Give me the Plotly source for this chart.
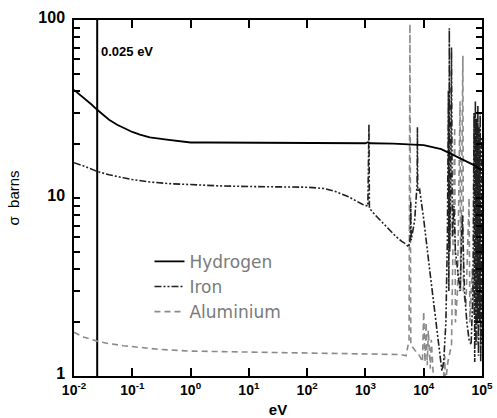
import plotly.graph_objects as go

# ---------------- data ----------------
h_energy = [0.01, 0.015, 0.02, 0.025, 0.03, 0.04, 0.055, 0.07, 0.1, 0.135, 0.2, 0.39, 0.6,
            1, 2, 5, 10, 100, 1000, 1100, 1200, 3000, 5000, 1e4, 2e4, 3e4, 5e4, 7e4, 1e5]
h_sigma = [40.5, 36.5, 33.5, 31.3, 29.8, 27.5, 25.8, 24.8, 23.5, 22.7, 21.9, 21.3, 20.9,
           20.5, 20.5, 20.45, 20.4, 20.4, 20.3, 20.6, 20.3, 20.2, 20.1, 19.8, 18.8, 17.6, 16.3, 15.4, 14.3]

fe_energy = [0.01, 0.015, 0.025, 0.04, 0.07, 0.1, 0.2, 0.5, 1, 3, 10, 30, 100, 200, 300,
             500, 700, 900, 1100, 1150, 1170, 1300, 1600, 2000, 2600, 3300, 4200, 5000,
             5500, 5900, 6000, 6100, 7000, 7700, 7800, 7900, 8500, 1e4, 1.26e4, 1.58e4,
             2.05e4, 2.2e4, 2.4e4, 2.55e4, 2.65e4, 2.7e4, 2.75e4, 2.8e4, 2.9e4, 3.0e4,
             3.1e4, 3.3e4, 3.5e4, 3.8e4, 4.2e4, 4.6e4, 5.0e4, 5.5e4, 6.0e4, 6.5e4, 7.0e4,
             7.3e4, 7.5e4, 7.7e4, 7.9e4, 8.1e4, 8.3e4, 8.5e4, 8.7e4, 8.9e4, 9.1e4, 9.3e4,
             9.5e4, 9.7e4, 1e5]
fe_sigma = [15.8, 15.1, 14.1, 13.5, 13.0, 12.7, 12.3, 12.0, 11.9, 11.7, 11.6, 11.5, 11.5, 11.3, 10.9,
            10.2, 9.6, 9.2, 9.0, 26, 8.8, 8.4, 7.8, 7.2, 6.6, 6.1, 5.7, 5.5,
            5.3, 6.0, 9.5, 5.8, 7.5, 12, 25, 11, 11.2, 7.6, 4.0, 2.1,
            1.07, 1.2, 2.0, 6, 40, 3, 90, 5, 12, 70,
            6, 9, 5, 4, 3, 8, 3, 2, 1.6, 1.5, 3,
            30, 1.2, 35, 1.5, 28, 2, 33, 1.3, 25, 2, 30,
            1.2, 22, 1.5]

al_energy = [0.01, 0.015, 0.025, 0.04, 0.07, 0.1, 0.3, 1, 10, 100, 1000, 4000, 5000,
             5200, 5600, 5800, 6000, 7000, 8500, 9500, 1.0e4, 1.05e4, 1.1e4, 1.15e4, 1.2e4,
             1.3e4, 1.35e4, 1.45e4, 1.6e4, 2.0e4, 2.2e4, 2.3e4, 2.35e4, 2.6e4, 3.0e4, 3.4e4,
             3.5e4, 3.8e4, 4.2e4, 4.3e4, 4.7e4, 4.8e4, 5.3e4, 6.0e4, 6.2e4, 6.8e4, 7.2e4,
             8.0e4, 8.3e4, 9.0e4, 9.5e4, 1e5]
al_sigma = [1.76, 1.65, 1.57, 1.52, 1.48, 1.46, 1.41, 1.38, 1.36, 1.35, 1.33, 1.32, 1.3,
            1.4, 1.6, 95, 1.5, 1.4, 1.3, 1.2, 2.3, 1.2, 2.0, 1.15, 1.8,
            1.1, 1.6, 1.05, 0.9, 0.9, 1.0, 1.3, 0.9, 1.2, 1.5, 25,
            2, 3, 35, 3, 63, 3, 2.5, 10, 2, 4, 2.2,
            20, 1.5, 8, 1.3, 3]

thermal_energy = [0.025, 0.025]
thermal_span = [1, 100]

# tick labels: plotly's default labels -> labels shown in the picture
x_tick_default = ["0.01", "0.1", "1", "10", "100", "1000", "10k", "100k"]
x_tick_labels = ["10<sup>-2</sup>", "10<sup>-1</sup>", "10<sup>0</sup>", "10<sup>1</sup>",
                 "10<sup>2</sup>", "10<sup>3</sup>", "10<sup>4</sup>", "10<sup>5</sup>"]
y_tick_default = ["1", "10", "100", "2", "3", "4", "5", "6", "7", "8", "9"]
y_tick_labels = ["<b>1</b>", "<b>10</b>", "<b>100</b>", " ", " ", " ", " ", " ", " ", " ", " "]

SANS = "Liberation Sans, Arial, sans-serif"

# ---------------- figure ----------------
fig = go.Figure()

fig.add_trace(go.Scatter(x=thermal_energy, y=thermal_span, mode="lines",
                         line=dict(color="black", width=2), showlegend=False,
                         hoverinfo="skip"))
fig.add_trace(go.Scatter(x=al_energy, y=al_sigma, mode="lines", name="Aluminium",
                         line=dict(color="#8a8a8a", width=1.6, dash="6px,4px")))
fig.add_trace(go.Scatter(x=fe_energy, y=fe_sigma, mode="lines", name="Iron",
                         line=dict(color="#202020", width=1.6,
                                   dash="7px,2px,2px,2px,2px,2px")))
fig.add_trace(go.Scatter(x=h_energy, y=h_sigma, mode="lines", name="Hydrogen",
                         line=dict(color="black", width=1.8)))

fig.update_layout(
    width=497, height=418,
    margin=dict(l=74, r=15, t=20, b=42, autoexpand=False),
    paper_bgcolor="white", plot_bgcolor="white",
    showlegend=True,
    legend=dict(x=0.185, y=0.371, xanchor="left", yanchor="top",
                traceorder="reversed", bgcolor="rgba(0,0,0,0)",
                font=dict(family="DejaVu Sans", size=17, color="#7a7a7a")),
    annotations=[dict(text="<b>0.025 eV</b>", xref="paper", yref="paper",
                      x=0.062, y=0.912, xanchor="left", yanchor="middle",
                      showarrow=False, font=dict(family=SANS, size=13, color="black"))],
)

fig.update_xaxes(type="log", range=[-2, 5], automargin=False,
                 dtick=1,
                 labelalias={d: "<b>" + t + "</b>" for d, t in zip(x_tick_default, x_tick_labels)},
                 tickfont=dict(family=SANS, size=14, color="black"),
                 ticks="inside", ticklen=8, tickwidth=2, tickcolor="black",
                 showline=True, linecolor="black", linewidth=1.5, mirror="ticks",
                 showgrid=False,
                 title=dict(text="<b>eV</b>", font=dict(family=SANS, size=15, color="black")))
fig.update_yaxes(type="log", range=[0, 2], automargin=False,
                 dtick="D1",
                 labelalias=dict(zip(y_tick_default, y_tick_labels)),
                 tickfont=dict(family=SANS, size=16, color="black"),
                 ticks="inside", ticklen=6, tickwidth=1.5, tickcolor="black",
                 showline=True, linecolor="black", linewidth=1.5, mirror="ticks",
                 showgrid=False,
                 title=dict(text="σ  barns", font=dict(family=SANS, size=15, color="black")))

fig.write_html("out.html", config={"displayModeBar": False},
               post_script="document.body.style.margin='0';document.body.style.overflow='hidden';")
